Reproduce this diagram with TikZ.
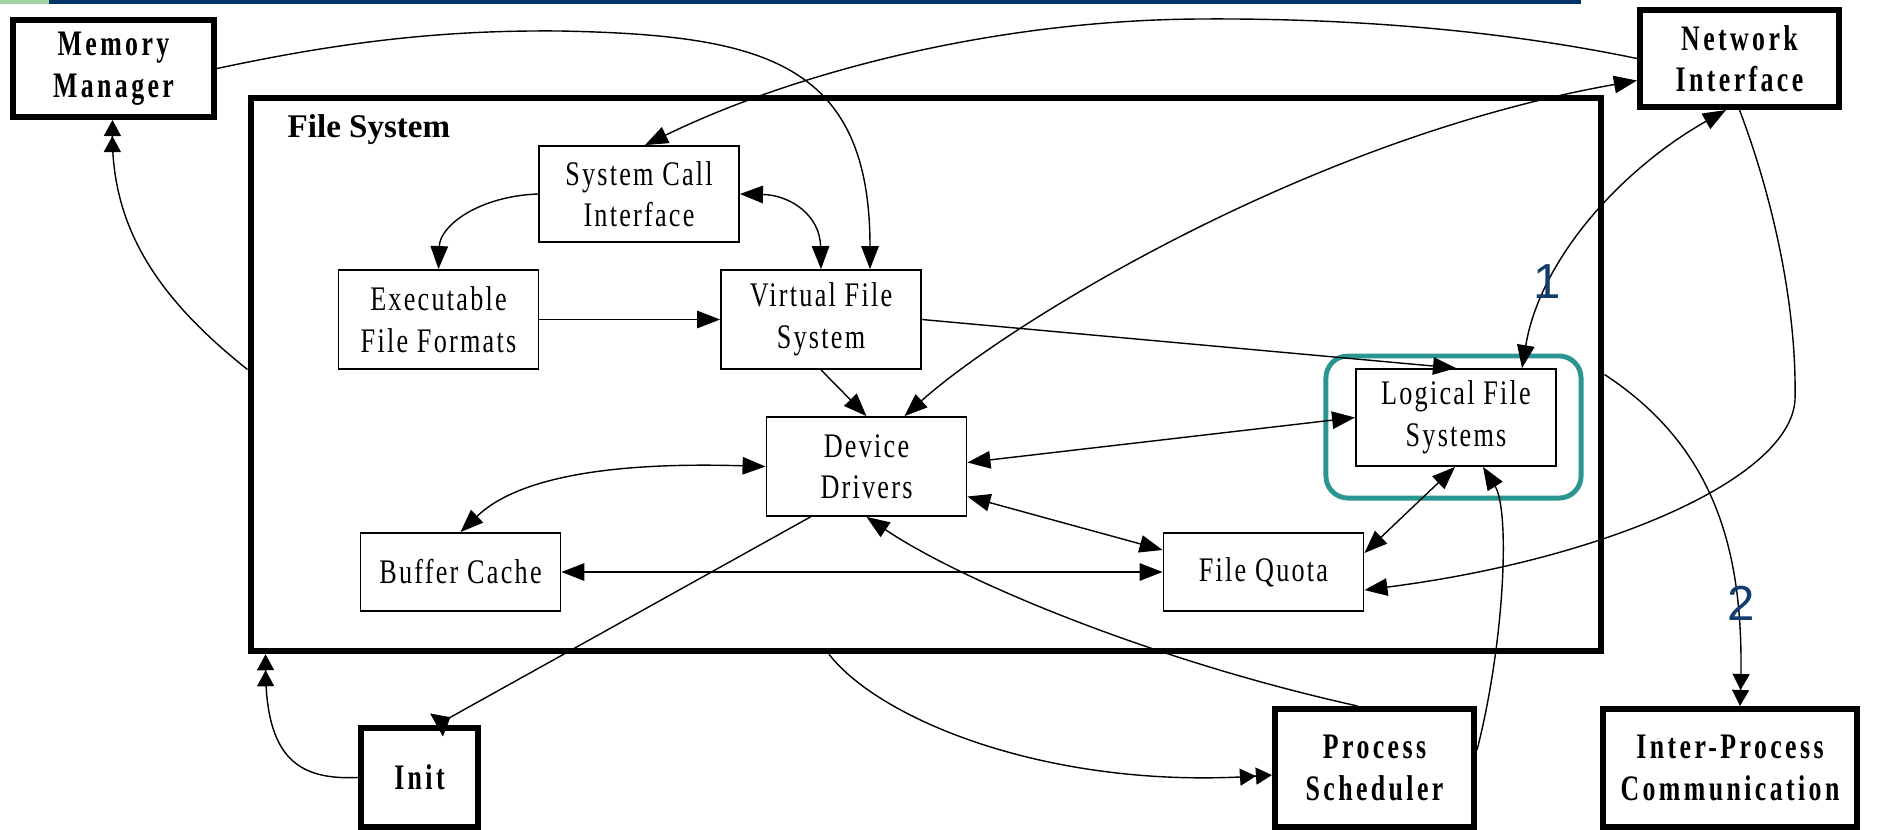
\documentclass[tikz,border=0pt]{standalone}
\usepackage{fontspec}
\setmainfont{Liberation Serif}
\newfontfamily\boxfont[FakeStretch=0.76,LetterSpace=6.5]{Liberation Serif}
\newfontfamily\bigboxfont[FakeStretch=0.72,LetterSpace=9.5]{Liberation Serif}
\newfontfamily\markfont{Liberation Sans}
\usetikzlibrary{arrows.meta,calc}
\definecolor{markteal}{RGB}{42,150,145}
\definecolor{marknavy}{RGB}{18,61,110}
\definecolor{barnavy}{RGB}{0,51,102}
\definecolor{bargreen}{RGB}{160,210,160}

\begin{document}
\begin{tikzpicture}[x=0.01cm, y=-0.01cm,
  >={Triangle[length=2.3mm,width=1.75mm]},
  box/.style={draw, line width=0.5pt, minimum width=2cm, minimum height=0.97cm, inner sep=0pt, align=center, font=\boxfont\fontsize{9.8}{11.8}\selectfont},
  bigbox/.style={draw, line width=1.7pt, minimum width=2cm, minimum height=0.97cm, inner sep=0pt, align=center, font=\bigboxfont\bfseries\fontsize{10.2}{11.8}\selectfont},
  link/.style={line width=0.4pt},
  dbl/.style={-{Triangle[length=1.6mm,width=1.7mm]Triangle[length=1.6mm,width=1.7mm]}}]
\useasboundingbox (0,0) rectangle (1896,830);
\fill[bargreen] (0,0) rectangle (49,3.5);
\fill[barnavy] (49,0) rectangle (1581,3.5);

\node[draw, line width=1.75pt, minimum width=13.5cm, minimum height=5.53cm] (fs) at (926,374.5) {};
\node[font=\bfseries\fontsize{9.4}{11}\selectfont, anchor=base west, inner sep=0pt] (fstitle) at (287,137) {File System};
\node[draw=markteal, line width=1.4pt, rounded corners=2.2mm, minimum width=2.55cm, minimum height=1.42cm] (hl) at (1453.5,427) {};

\node[bigbox, minimum width=2.01cm] (mm) at (113.5,68.5) {Memory\\Manager};
\node[bigbox, minimum width=1.99cm] (ni) at (1739.5,58.5) {Network\\Interface};
\node[bigbox, minimum width=1.17cm, minimum height=0.99cm] (init) at (419.5,777.5) {Init};
\node[bigbox, minimum width=1.99cm, minimum height=1.18cm] (ps) at (1374.5,768) {Process\\Scheduler};
\node[bigbox, minimum width=2.54cm, minimum height=1.18cm] (ipc) at (1730,768) {Inter-Process\\Communication};

\node[box, minimum height=0.96cm] (sci) at (639,194) {System Call\\Interface};
\node[box, minimum height=0.99cm] (exe) at (438.5,319.5) {Executable\\File Formats};
\node[box, minimum height=0.99cm] (vfs) at (821,319.5) {Virtual File\\System};
\node[box, minimum height=0.99cm] (dd) at (866.5,466.5) {Device\\Drivers};
\node[box, minimum height=0.78cm] (bc) at (460.5,572) {Buffer Cache};
\node[box, minimum height=0.78cm] (fq) at (1263.5,572) {File Quota};
\node[box] (lfs) at (1456,417.5) {Logical File\\Systems};

\draw[link,->] (mm.east) .. controls (350,40) and (450,30) .. (560,31) .. controls (760,35) and (870,60) .. ($(vfs.north)+(49,0)$);
\draw[link,->] (ni.west) .. controls (1500,30) and (1350,18) .. (1200,19) .. controls (1000,20) and (800,70) .. ($(sci.north)+(6,0)$);
\draw[link,<->] ($(dd.north)+(38,0)$) .. controls (1000,330) and (1300,140) .. ($(ni.west)+(0,22)$);
\draw[link,->] (sci.west) .. controls (480,196) and (440,225) .. (exe.north);
\draw[link,<->] (sci.east) .. controls (790,195) and (820,215) .. (vfs.north);
\draw[link,->] (exe) -- (vfs);
\draw[link,->] (vfs.south) -- (dd.north);
\draw[link,->] (vfs.east) -- (lfs.north);
\draw[link,<->] ($(dd.east)+(0,-4)$) -- (lfs.west);
\draw[link,<->] (dd.west) .. controls (620,462) and (520,475) .. (bc.north);
\draw[link,<->] (bc) -- (fq);
\draw[link,<->] ($(dd.east)+(0,30)$) -- ($(fq.west)+(0,-22)$);
\draw[link,-{Triangle[reversed,length=1.6mm,width=2.6mm]}] ($(dd.south)+(-56,0)$) -- ($(init.north)+(17,0)$);
\draw[link,->] ($(ps.north)+(-17,0)$) .. controls (1150,660) and (960,580) .. (dd.south);
\draw[link,dbl] ($(fs.south)+(-97,0)$) .. controls (880,720) and (1050,790) .. ($(ps.west)+(0,7)$);
\draw[link,dbl] (init.west) .. controls (300,780) and (266,760) .. ($(fs.south west)+(18,0)$);
\draw[link,dbl] ($(fs.west)+(0,-5)$) .. controls (160,300) and (112,230) .. ($(mm.south)+(-1,0)$);
\draw[link,->] (ni.south) .. controls (1770,190) and (1797,300) .. (1795,400) .. controls (1790,480) and (1600,560) .. ($(fq.east)+(0,18)$);
\draw[link,<->] ($(lfs.north)+(66,0)$) .. controls (1540,260) and (1620,170) .. ($(ni.south west)+(89,0)$);
\draw[link,dbl] (fs.east) .. controls (1720,450) and (1745,560) .. ($(ipc.north)+(10,0)$);
\draw[link,->] ($(ps.east)+(0,-18)$) .. controls (1505,640) and (1510,510) .. ($(lfs.south)+(27,0)$);
\draw[link,<->] ($(lfs.south)+(-1,0)$) -- ($(fq.east)+(0,-19)$);

\node[text=marknavy, font=\markfont\fontsize{14}{15}\selectfont] (one) at (1547,282) {1};
\node[text=marknavy, font=\markfont\fontsize{14}{15}\selectfont] (two) at (1741,603) {2};
\end{tikzpicture}
\end{document}
